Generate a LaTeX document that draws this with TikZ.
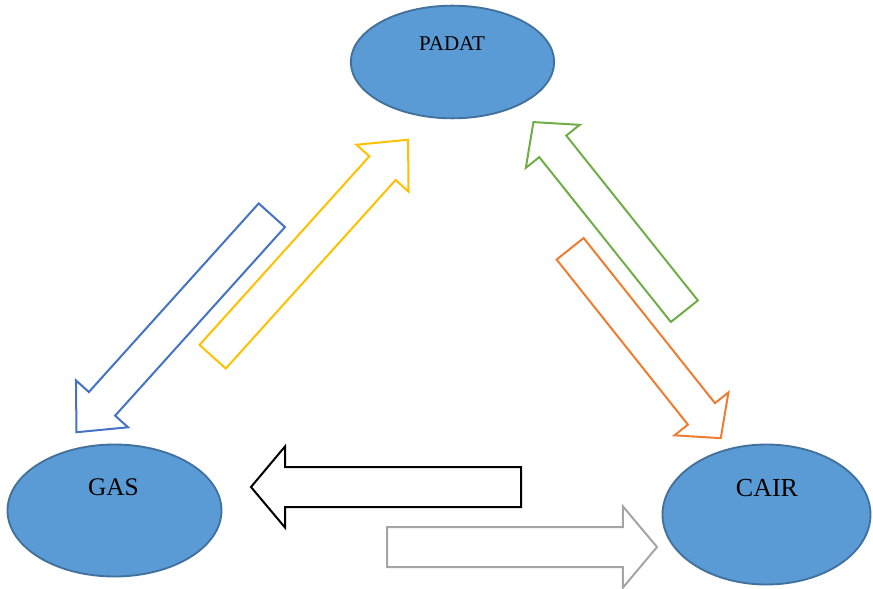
\documentclass[tikz,border=0pt]{standalone}
\usepackage{fontspec}
\setmainfont{Liberation Serif}
\usetikzlibrary{shapes.geometric,shapes.arrows}

\definecolor{phasefill}{HTML}{5B9BD5}
\definecolor{phaseline}{HTML}{41719C}
\definecolor{flowblue}{HTML}{4472C4}
\definecolor{flowyellow}{HTML}{FFC000}
\definecolor{flowgreen}{HTML}{70AD47}
\definecolor{floworange}{HTML}{ED7D31}
\definecolor{flowgray}{HTML}{A5A5A5}

\tikzset{
  phase/.style={ellipse, draw=phaseline, fill=phasefill, line width=1.4pt, inner sep=0pt},
  flow/.style={single arrow, draw=#1, line width=1.5pt, inner xsep=0pt,
    single arrow head indent=0pt, anchor=tail},
  longflow/.style={minimum height=219pt, inner ysep=12.5pt,
    single arrow head extend=13pt, single arrow tip angle=85},
  shortflow/.style={minimum height=181.5pt, inner ysep=12.2pt,
    single arrow head extend=12.9pt, single arrow tip angle=96},
  flatflow/.style={minimum height=202.5pt, inner ysep=14.25pt,
    single arrow head extend=15.5pt, single arrow tip angle=100}
}

\begin{document}
\begin{tikzpicture}[x=0.75pt,y=-0.75pt]
			\useasboundingbox (0,0) rectangle (873,588);
			\node[phase, minimum width=152.5pt, minimum height=84.5pt] (padat) at (452.5,62) {};
			\node[font=\fontsize{15.75}{18}\selectfont] (padattext) at (452,43.5) {PADAT};
			
			\node[phase, minimum width=160.5pt, minimum height=99pt] (gas) at (114.5,510.5) {};
			\node[font=\fontsize{19}{22}\selectfont] (gastext) at (113.5,487.5) {GAS};
			
			\node[phase, minimum width=156pt, minimum height=105pt] (cair) at (766.5,514.5) {};
			\node[font=\fontsize{19.5}{22}\selectfont] (cairtext) at (767,488.5) {CAIR};
			
			% arrows are placed by their tails
			\node[flow=flowblue, longflow, rotate=228] (padatgas) at (272.5,214.5) {};
			\node[flow=flowyellow, longflow, rotate=48] (gaspadat) at (212,357.5) {};
			
			\node[flow=flowgreen, shortflow, rotate=128.6] (cairpadat) at (685,312) {};
			\node[flow=floworange, shortflow, rotate=-51.5] (padatcair) at (569.5,248) {};
			
			\node[flow=black, flatflow, rotate=180] (cairgas) at (522,487) {};
			\node[flow=flowgray, flatflow] (gascair) at (386,547) {};
			\end{tikzpicture}
\end{document}
